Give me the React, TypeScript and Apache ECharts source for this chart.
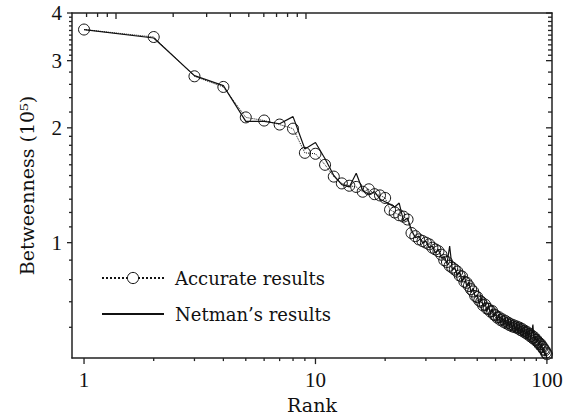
import React, { useEffect, useRef } from "react";
import * as echarts from "echarts";

const ranks = Array.from({ length: 100 }, (_, i) => i + 1);

const accurate = [
  3.62, 3.46, 2.73, 2.56, 2.13, 2.09, 2.04, 1.99, 1.72, 1.71,
  1.60, 1.49, 1.43, 1.41, 1.40, 1.36, 1.38, 1.34, 1.33, 1.31,
  1.22, 1.20, 1.18, 1.17, 1.15, 1.06, 1.04, 1.02, 1.01, 1.00,
  0.99, 0.97, 0.96, 0.95, 0.93, 0.90, 0.89, 0.87, 0.86, 0.85,
  0.84, 0.82, 0.815, 0.79, 0.785, 0.77, 0.755, 0.745, 0.725, 0.72,
  0.705, 0.70, 0.685, 0.688, 0.672, 0.67, 0.66, 0.662, 0.648, 0.645,
  0.636, 0.638, 0.627, 0.63, 0.62, 0.624, 0.614, 0.617, 0.608, 0.611,
  0.603, 0.607, 0.60, 0.603, 0.596, 0.599, 0.59, 0.594, 0.585, 0.588,
  0.58, 0.583, 0.574, 0.577, 0.568, 0.571, 0.562, 0.565, 0.556, 0.557,
  0.55, 0.548, 0.541, 0.542, 0.534, 0.532, 0.525, 0.522, 0.515, 0.51,
];

const netman = [
  3.62, 3.44, 2.74, 2.58, 2.08, 2.08, 2.05, 2.14, 1.76, 1.83,
  1.66, 1.50, 1.42, 1.40, 1.52, 1.37, 1.34, 1.36, 1.30, 1.28,
  1.26, 1.24, 1.27, 1.14, 1.16, 1.08, 1.03, 1.04, 1.00, 1.01,
  0.97, 0.98, 0.94, 0.96, 0.91, 0.92, 0.88, 0.98, 0.85, 0.86,
  0.82, 0.84, 0.79, 0.82, 0.77, 0.79, 0.74, 0.76, 0.72, 0.73,
  0.69, 0.72, 0.68, 0.70, 0.66, 0.685, 0.65, 0.67, 0.64, 0.66,
  0.625, 0.65, 0.615, 0.64, 0.61, 0.635, 0.60, 0.63, 0.60, 0.625,
  0.59, 0.62, 0.585, 0.615, 0.58, 0.61, 0.575, 0.605, 0.57, 0.60,
  0.565, 0.595, 0.56, 0.59, 0.555, 0.58, 0.61, 0.55, 0.57, 0.545,
  0.565, 0.535, 0.555, 0.525, 0.545, 0.515, 0.53, 0.505, 0.515, 0.495,
];

const xMajor = [1, 10, 100];
const xMinor = [2, 3, 4, 5, 6, 7, 8, 9, 20, 30, 40, 50, 60, 70, 80, 90];
const topMajor = [1, 10];
const topMinor = [0.7, 0.8, 0.9, 2, 3, 4, 5, 6, 7, 8, 9];
const yMajor = [1, 2, 3, 4];
const yMinor = [
  0.6, 0.7, 0.8, 0.9, 1.1, 1.2, 1.3, 1.4, 1.5, 1.6, 1.7, 1.8, 1.9,
  2.2, 2.4, 2.6, 2.8, 3.1, 3.2, 3.3, 3.4, 3.5, 3.6, 3.7, 3.8, 3.9,
];

const L = (v: number) => Math.log10(v);
const TEXT_FONT = "DejaVu Serif";
const NUM_FONT = "Liberation Serif";
const INK = "#111";
const AXIS_COLOR = "#222";
const AXIS = { color: AXIS_COLOR, width: 1.5 };

const X_MIN = -0.052;
const X_MAX = 2.022;
const TOP_MIN = -0.2316;
const TOP_MAX = 2.295;
const Y_MIN = -0.3026;
const Y_MAX = L(4);

function fmt(v: number) {
  return String(Math.round(Math.pow(10, v)));
}

// side: which edge; len: positive = outward, negative = inward
function tickSeries(
  points: number[][],
  side: "bottom" | "top" | "left" | "right",
  len: number,
  xAxisIndex: number
) {
  return {
    type: "custom",
    xAxisIndex,
    yAxisIndex: 0,
    silent: true,
    clip: false,
    z: 6,
    data: points,
    renderItem: (params: any, api: any) => {
      const p = api.coord([api.value(0), api.value(1)]);
      let x1 = p[0], y1 = p[1], x2 = p[0], y2 = p[1];
      if (side === "bottom") y2 = y1 + len;
      if (side === "top") y2 = y1 - len;
      if (side === "left") x2 = x1 - len;
      if (side === "right") x2 = x1 + len;
      return {
        type: "line",
        shape: { x1, y1, x2, y2 },
        style: { stroke: AXIS_COLOR, lineWidth: 1.3 },
      };
    },
  };
}

export default function App() {
  const ref = useRef<HTMLDivElement>(null);
  useEffect(() => {
    if (!ref.current) return;
    const chart = echarts.init(ref.current, undefined, { renderer: "svg" });
    const hidden = { show: false };
    chart.setOption({
      animation: false,
      grid: { left: 72, right: 32, top: 13, bottom: 53 },
      legend: {
        orient: "vertical",
        left: 96,
        top: 264,
        itemWidth: 62,
        itemHeight: 14,
        itemGap: 18,
        textStyle: { fontSize: 18, fontFamily: TEXT_FONT, color: INK, padding: [0, 0, 0, 6] },
        data: [
          {
            name: "Accurate results",
            itemStyle: { color: "#ffffff", borderColor: INK, borderWidth: 1 },
          },
          { name: "Netman’s results", itemStyle: { opacity: 0 } },
        ],
      },
      xAxis: [
        {
          type: "value",
          position: "bottom",
          min: X_MIN,
          max: X_MAX,
          splitLine: hidden,
          axisLine: { show: true, onZero: false, lineStyle: AXIS },
          axisTick: hidden,
          axisLabel: {
            show: true,
            customValues: xMajor.map(L),
            formatter: fmt,
            margin: 11,
            fontSize: 21,
            fontFamily: NUM_FONT,
            color: INK,
          },
          name: "Rank",
          nameLocation: "middle",
          nameGap: 32,
          nameTextStyle: { fontSize: 19, fontFamily: TEXT_FONT, color: INK },
        },
        {
          type: "value",
          position: "top",
          min: TOP_MIN,
          max: TOP_MAX,
          splitLine: hidden,
          axisLine: { show: true, onZero: false, lineStyle: AXIS },
          axisTick: hidden,
          axisLabel: hidden,
        },
      ],
      yAxis: [
        {
          type: "value",
          position: "left",
          min: Y_MIN,
          max: Y_MAX,
          splitLine: hidden,
          axisLine: { show: true, onZero: false, lineStyle: AXIS },
          axisTick: hidden,
          axisLabel: {
            show: true,
            customValues: yMajor.map(L),
            formatter: fmt,
            margin: 10,
            fontSize: 21,
            fontFamily: NUM_FONT,
            color: INK,
          },
          name: "Betweenness (10⁵)",
          nameLocation: "middle",
          nameGap: 36,
          nameRotate: 90,
          nameTextStyle: { fontSize: 19, fontFamily: TEXT_FONT, color: INK },
        },
        {
          type: "value",
          position: "right",
          min: Y_MIN,
          max: Y_MAX,
          splitLine: hidden,
          axisLine: { show: true, onZero: false, lineStyle: AXIS },
          axisTick: hidden,
          axisLabel: hidden,
        },
      ],
      series: [
        {
          type: "line",
          name: "Accurate results",
          xAxisIndex: 0,
          yAxisIndex: 0,
          data: ranks.map((r, i) => [L(r), L(accurate[i])]),
          symbol: "circle",
          symbolSize: 11,
          showSymbol: true,
          showAllSymbol: true,
          itemStyle: { color: "rgba(0,0,0,0)", borderColor: INK, borderWidth: 1 },
          lineStyle: { color: INK, width: 1, type: "dotted" },
          z: 3,
        },
        {
          type: "line",
          name: "Netman’s results",
          xAxisIndex: 0,
          yAxisIndex: 0,
          data: ranks.map((r, i) => [L(r), L(netman[i])]),
          symbol: "none",
          itemStyle: { color: INK },
          lineStyle: { color: INK, width: 1.2 },
          z: 2,
        },
        tickSeries(xMajor.map((v) => [L(v), Y_MIN]), "bottom", 6, 0),
        tickSeries(xMinor.map((v) => [L(v), Y_MIN]), "bottom", 3, 0),
        tickSeries(topMajor.map((v) => [L(v), Y_MAX]), "top", -6, 1),
        tickSeries(topMinor.map((v) => [L(v), Y_MAX]), "top", -4, 1),
        tickSeries(yMajor.map((v) => [X_MIN, L(v)]), "left", 5, 0),
        tickSeries(yMinor.map((v) => [X_MIN, L(v)]), "left", 3, 0),
        tickSeries(yMajor.map((v) => [X_MAX, L(v)]), "right", -6, 0),
        tickSeries(yMinor.map((v) => [X_MAX, L(v)]), "right", -4, 0),
      ],
    });
    return () => chart.dispose();
  }, []);
  return (
    <div
      ref={ref}
      style={{ position: "fixed", left: 0, top: 0, width: 584, height: 419, background: "#fff" }}
    />
  );
}
